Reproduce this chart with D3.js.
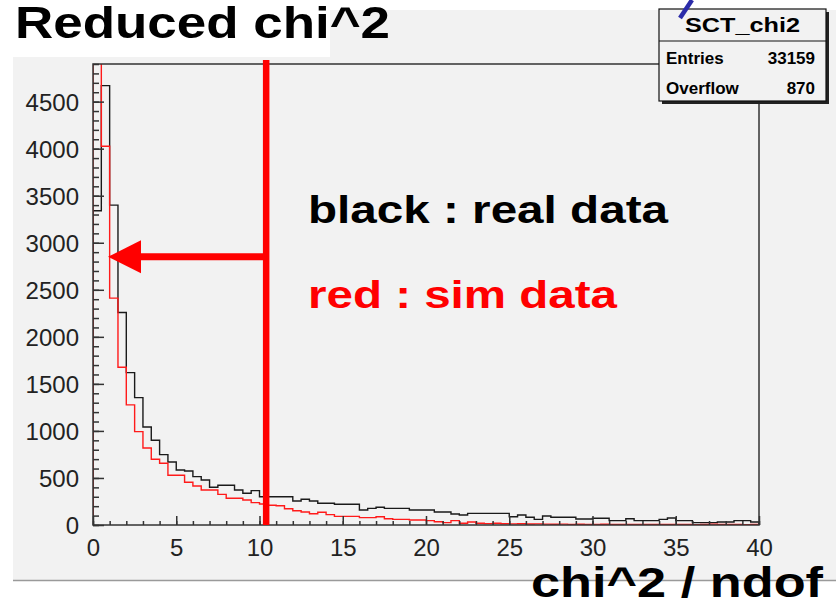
<!DOCTYPE html>
<html>
<head>
<meta charset="utf-8">
<script src="https://cdn.jsdelivr.net/npm/d3@7"></script>
<style>
body { margin: 0; background: #fff; }
svg { display: block; font-family: 'Liberation Sans', Arial, sans-serif; }
</style>
</head>
<body>
<svg id="chart" width="836" height="605"></svg>
<script>
// 80 bins of 0.5 from 0 to 40
var binLo = 0, binHi = 40;
var realData = [3340,4670,3400,2258,1620,1354,1042,901,748,670,
	585,574,514,479,401,422,422,372,337,365,
	301,301,301,301,255,273,255,231,231,220,
	220,220,160,177,188,177,177,177,160,160,
	160,138,138,117,106,124,124,124,124,124,
	88,106,82,60,96,82,82,82,64,64,
	71,71,46,46,67,46,46,46,60,74,
	46,46,25,25,25,32,32,46,46,32];
var simData = [9800,4025,2412,1677,1277,993,819,699,656,528,
	528,454,415,372,372,326,284,284,266,238,
	223,210,205,173,152,138,120,135,110,92,
	92,92,78,78,88,67,60,60,53,53,
	46,35,25,46,18,32,18,15,18,14,
	12,14,10,12,9,8,9,7,8,6,
	7,8,6,7,5,7,6,5,6,7,
	5,6,4,5,9,5,6,5,4,6];
var xTicks = [0,5,10,15,20,25,30,35,40];
var yTicks = [0,500,1000,1500,2000,2500,3000,3500,4000,4500];
var statsRows = [['Entries', '33159'], ['Overflow', '870']];
var cutX = 10.4, arrowY = 2850, arrowTipX = 0.9;

var svg = d3.select('#chart');
var frame = {left: 93, right: 759, top: 64, bottom: 525};
var x = d3.scaleLinear().domain([binLo, binHi]).range([frame.left, frame.right]);
var y = d3.scaleLinear().domain([0, 4900]).range([frame.bottom, frame.top]);

// slide background
svg.append('rect').attr('x', 13).attr('y', 10).attr('width', 823).attr('height', 570).attr('fill', '#f2f2f2');
svg.append('rect').attr('x', 0).attr('y', 0).attr('width', 330).attr('height', 57).attr('fill', '#fff');
svg.append('line').attr('x1', 13).attr('x2', 836).attr('y1', 580.5).attr('y2', 580.5)
	.attr('stroke', '#9a9a9a').attr('stroke-width', 1.5);

svg.append('clipPath').attr('id', 'fclip')
	.append('rect').attr('x', frame.left).attr('y', frame.top)
	.attr('width', frame.right - frame.left).attr('height', frame.bottom - frame.top);

var step = function(vals) {
	var w = (binHi - binLo) / vals.length;
	var d = 'M' + x(binLo) + ',' + y(0);
	vals.forEach(function(v, i) {
		d += 'V' + y(v) + 'H' + x(binLo + (i + 1) * w);
	});
	d += 'V' + y(0);
	return d;
};

var g = svg.append('g').attr('clip-path', 'url(#fclip)');
g.append('path').attr('d', step(realData)).attr('fill', 'none')
	.attr('stroke', '#1a1a1a').attr('stroke-width', 1.4);
g.append('path').attr('d', step(simData)).attr('fill', 'none')
	.attr('stroke', '#ff1a1a').attr('stroke-width', 1.4);

// axes
var xAxis = d3.axisBottom(x).tickValues(d3.range(0, 41, 1)).tickSize(-4).tickFormat('');
var xMajor = d3.axisBottom(x).tickValues(xTicks).tickSize(-9).tickFormat(d3.format('d'));
var yAxis = d3.axisLeft(y).tickValues(d3.range(0, 4901, 100)).tickSize(-6).tickFormat('');
var yMajor = d3.axisLeft(y).tickValues(yTicks).tickSize(-11).tickFormat(d3.format('d'));
[[xAxis, 'x'], [xMajor, 'x'], [yAxis, 'y'], [yMajor, 'y']].forEach(function(a) {
	var ax = svg.append('g')
		.attr('transform', a[1] == 'x' ? 'translate(0,' + frame.bottom + ')' : 'translate(' + frame.left + ',0)')
		.call(a[0]);
	ax.select('.domain').remove();
	ax.selectAll('line').attr('stroke', '#333').attr('stroke-width', 1.5);
	ax.selectAll('text').attr('fill', '#222').attr('font-size', 24)
		.attr('font-family', "'Liberation Sans', Arial, sans-serif");
	if (a[1] == 'x') ax.selectAll('text').attr('y', 14).attr('dy', '0.71em');
	else ax.selectAll('text').attr('x', -14).attr('dy', '0.35em');
});

svg.append('rect').attr('x', frame.left).attr('y', frame.top)
	.attr('width', frame.right - frame.left).attr('height', frame.bottom - frame.top)
	.attr('fill', 'none').attr('stroke', '#333').attr('stroke-width', 1.5);

// cut line and arrow
svg.append('line').attr('x1', x(cutX)).attr('x2', x(cutX)).attr('y1', 60).attr('y2', frame.bottom)
	.attr('stroke', '#ff0000').attr('stroke-width', 6.5);
svg.append('line').attr('x1', x(cutX)).attr('x2', x(arrowTipX) + 30).attr('y1', y(arrowY)).attr('y2', y(arrowY))
	.attr('stroke', '#ff0000').attr('stroke-width', 7);
var tx = x(arrowTipX), ty = y(arrowY);
svg.append('path')
	.attr('d', 'M' + tx + ',' + ty + 'L' + (tx + 33) + ',' + (ty - 16.5) + 'L' + (tx + 33) + ',' + (ty + 16.5) + 'Z')
	.attr('fill', '#ff0000');

// texts
var bigText = function(str, px, py, size, len, col) {
	svg.append('text').attr('x', px).attr('y', py).attr('font-size', size)
		.attr('font-weight', 'bold').attr('fill', col)
		.attr('textLength', len).attr('lengthAdjust', 'spacingAndGlyphs').text(str);
};
bigText('Reduced chi^2', 15, 38, 44, 375, '#000');
bigText('black : real data', 308, 223, 38, 360, '#000');
bigText('red : sim data', 308, 308, 38, 309, '#ff0000');
bigText('chi^2 / ndof', 531, 597, 42, 292, '#000');

// stats box
var sb = {x: 659, y: 9, w: 167, h: 92};
svg.append('rect').attr('x', sb.x + 3).attr('y', sb.y + 3).attr('width', sb.w).attr('height', sb.h).attr('fill', '#222');
svg.append('rect').attr('x', sb.x).attr('y', sb.y).attr('width', sb.w).attr('height', sb.h)
	.attr('fill', '#f2f2f2').attr('stroke', '#111').attr('stroke-width', 1.2);
svg.append('line').attr('x1', sb.x).attr('x2', sb.x + sb.w).attr('y1', 41).attr('y2', 41)
	.attr('stroke', '#111').attr('stroke-width', 1.2);
svg.append('text').attr('x', sb.x + sb.w / 2).attr('y', 32).attr('text-anchor', 'middle')
	.attr('font-size', 21).attr('font-weight', 'bold')
	.attr('textLength', 115).attr('lengthAdjust', 'spacingAndGlyphs').text('SCT_chi2');
statsRows.forEach(function(r, i) {
	var by = 64 + i * 30;
	svg.append('text').attr('x', 666).attr('y', by).attr('font-size', 17).attr('font-weight', 'bold').text(r[0]);
	svg.append('text').attr('x', 815).attr('y', by).attr('font-size', 17).attr('font-weight', 'bold')
		.attr('text-anchor', 'end').text(r[1]);
});
svg.append('line').attr('x1', 680).attr('y1', 18).attr('x2', 692).attr('y2', 0)
	.attr('stroke', '#2b2ba8').attr('stroke-width', 4.5);
</script>
</body>
</html>
